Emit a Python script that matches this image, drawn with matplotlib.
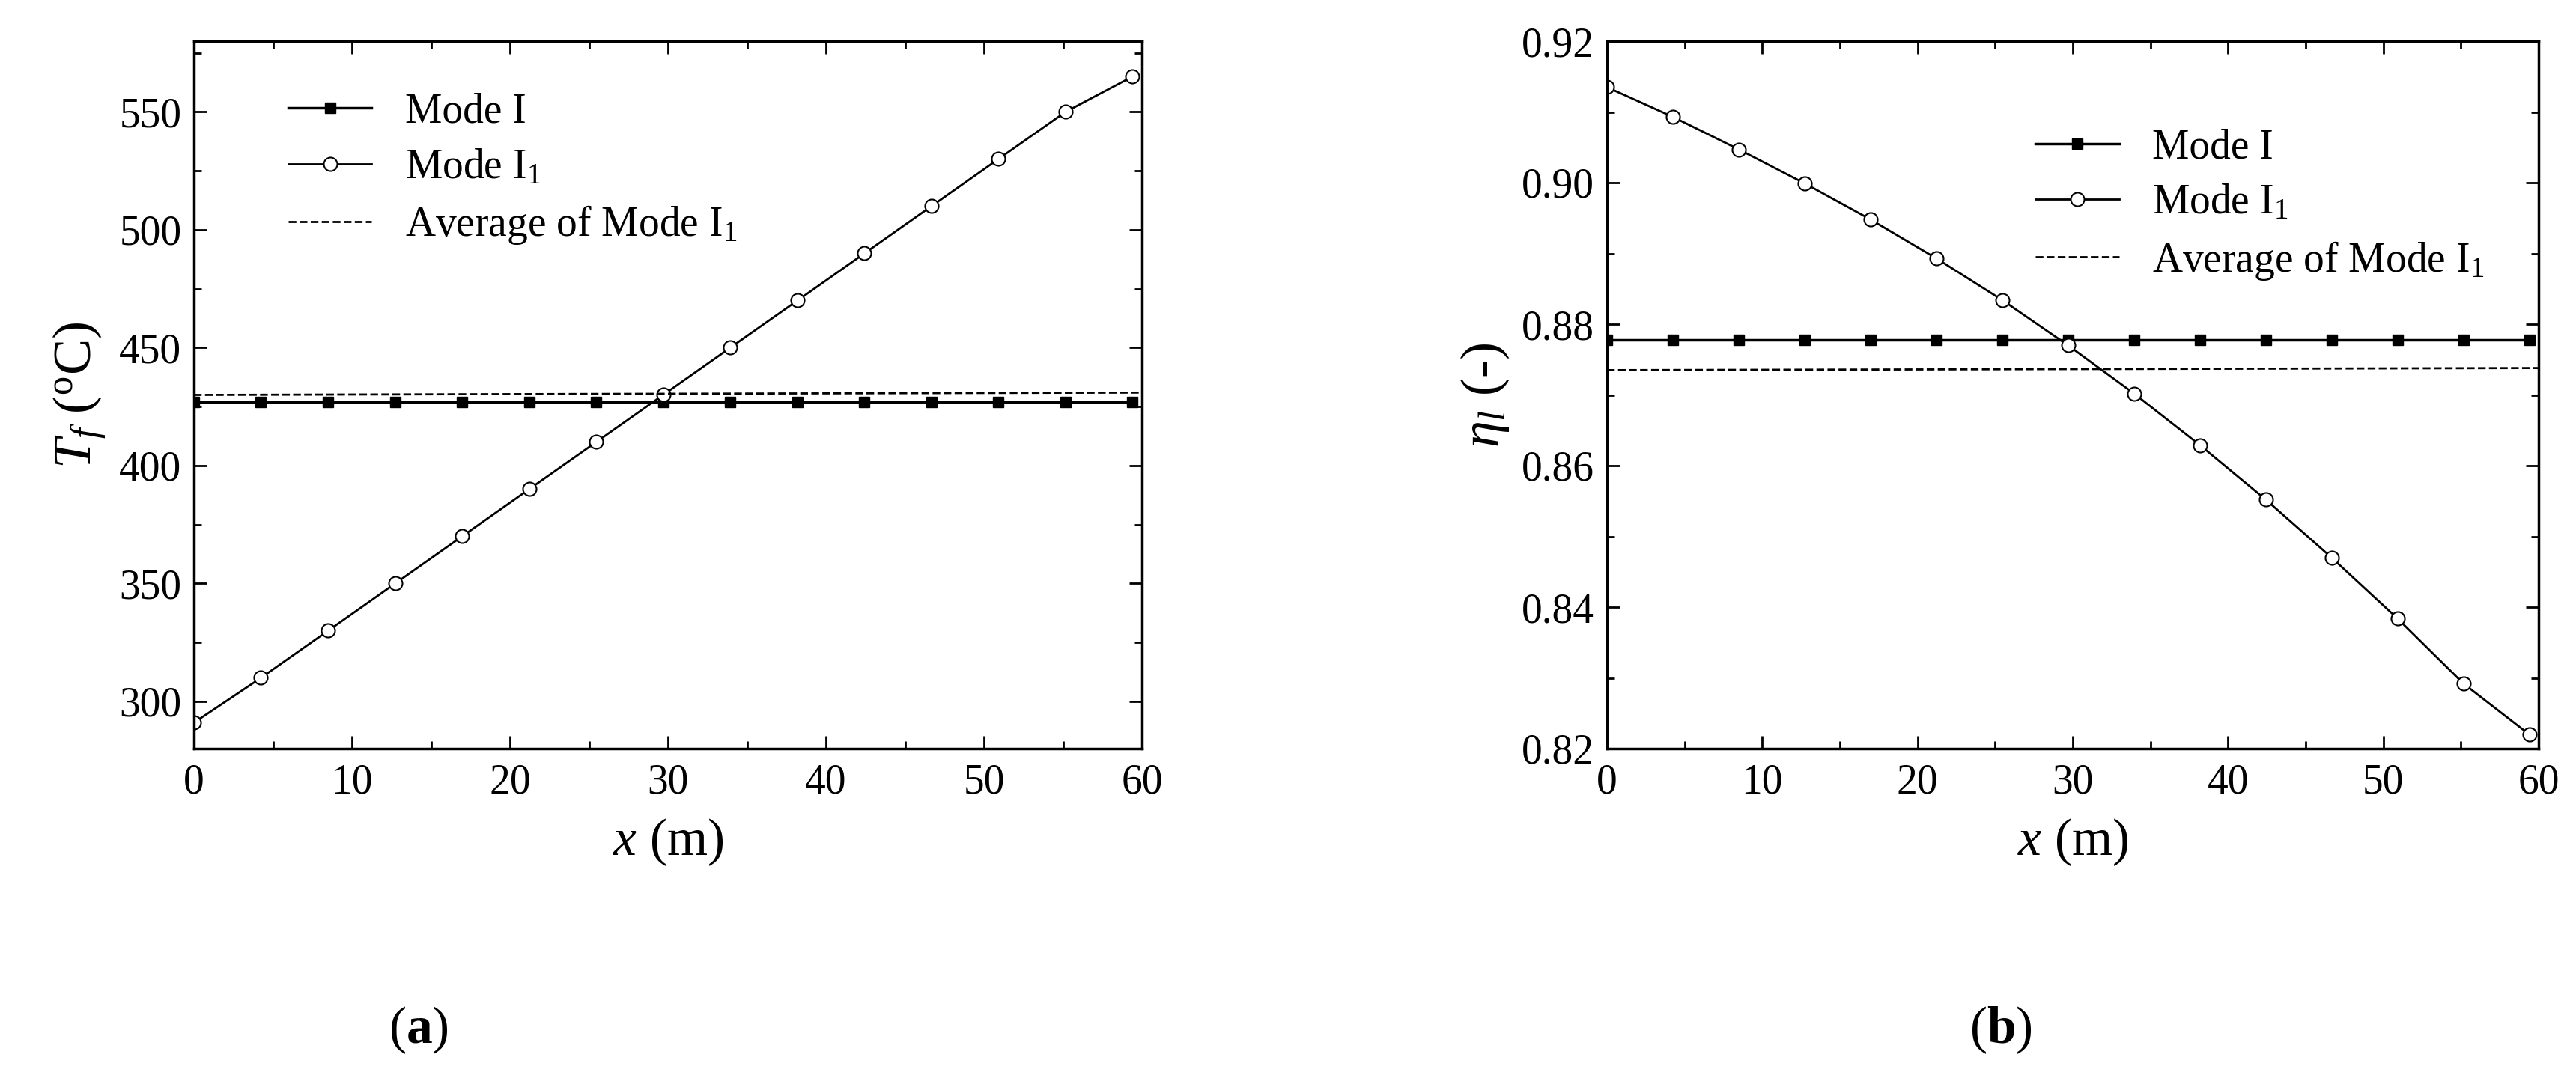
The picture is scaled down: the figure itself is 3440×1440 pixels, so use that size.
import numpy as np
import matplotlib
matplotlib.use('Agg')
import matplotlib.pyplot as plt
from matplotlib.ticker import MultipleLocator

plt.rcParams['font.family'] = ['Liberation Serif', 'DejaVu Serif']
plt.rcParams['mathtext.fontset'] = 'custom'
plt.rcParams['mathtext.rm'] = 'Liberation Serif'
plt.rcParams['mathtext.it'] = 'Liberation Serif:italic'
plt.rcParams['mathtext.bf'] = 'Liberation Serif:bold'

# data
x = [0, 4.24, 8.49, 12.73, 16.97, 21.21, 25.46, 29.7, 33.94, 38.19, 42.43, 46.67, 50.91, 55.16, 59.4]
tf_mode1 = [427] * 15
tf_mode11 = [291, 310, 330, 350, 370, 390, 410, 430, 450, 470, 490, 510, 530, 550, 565]
tf_avg = [430, 431]
eta_mode1 = [0.8778] * 15
eta_mode11 = [0.9135, 0.9093, 0.9047, 0.8999, 0.8948, 0.8893, 0.8834, 0.8770,
              0.8702, 0.8629, 0.8552, 0.8470, 0.8384, 0.8292, 0.8220]
eta_avg = [0.8735, 0.8738]
avg_x = [0, 60]

fig = plt.figure(figsize=(34.4, 14.4), dpi=100)
ax1 = fig.add_axes([259/3440, 1 - 1000/1440, 1266/3440, 945/1440])
ax2 = fig.add_axes([2146/3440, 1 - 1000/1440, 1244/3440, 945/1440])

lab1 = 'Mode I'
lab2 = 'Mode I$_1$'
lab3 = 'Average of Mode I$_1$'

for ax, m1, m11, avg in [(ax1, tf_mode1, tf_mode11, tf_avg), (ax2, eta_mode1, eta_mode11, eta_avg)]:
    ax.plot(x, m1, '-', color='black', lw=2.5, marker='s', ms=10, label=lab1)
    ax.plot(x, m11, '-', color='black', lw=2, marker='o', ms=13, mfc='white', mew=1.5, label=lab2)
    ax.plot(avg_x, avg, '--', color='black', lw=2, label=lab3)
    ax.set_xlim(0, 60)
    ax.xaxis.set_major_locator(MultipleLocator(10))
    ax.xaxis.set_minor_locator(MultipleLocator(5))
    ax.tick_params(which='both', direction='in', top=True, right=True, labelsize=40, width=2)
    ax.tick_params(which='major', length=12)
    ax.tick_params(which='minor', length=7)
    ax.tick_params(axis='x', pad=14)
    ax.tick_params(axis='y', pad=12)
    for s in ax.spines.values():
        s.set_linewidth(2.5)
    ax.set_xlabel('$x$ (m)', fontsize=50, labelpad=14)

ax1.set_ylim(280, 580)
ax1.yaxis.set_major_locator(MultipleLocator(50))
ax1.yaxis.set_minor_locator(MultipleLocator(25))
ax1.set_ylabel('$T_f$ ($^{\\rm o}$C)', fontsize=52, labelpad=10)
ax1.legend(loc='upper left', bbox_to_anchor=(0.06, 0.98), fontsize=40, frameon=False,
           handlelength=2.0, labelspacing=0.4)

ax2.set_ylim(0.82, 0.92)
ax2.yaxis.set_major_locator(MultipleLocator(0.02))
ax2.yaxis.set_minor_locator(MultipleLocator(0.01))
ax2.yaxis.set_major_formatter(matplotlib.ticker.FormatStrFormatter('%.2f'))
ax2.set_ylabel('$\\eta_l$ (-)', fontsize=52, labelpad=10)
ax2.legend(loc='upper left', bbox_to_anchor=(0.42, 0.93), fontsize=40, frameon=False,
           handlelength=2.0, labelspacing=0.4)

fig.text(255/1568, 1 - 625/654, '($\\mathbf{a}$)', fontsize=50, ha='center', va='center')
fig.text(1218/1568, 1 - 625/654, '($\\mathbf{b}$)', fontsize=50, ha='center', va='center')

fig.savefig('out.png', dpi=100)
